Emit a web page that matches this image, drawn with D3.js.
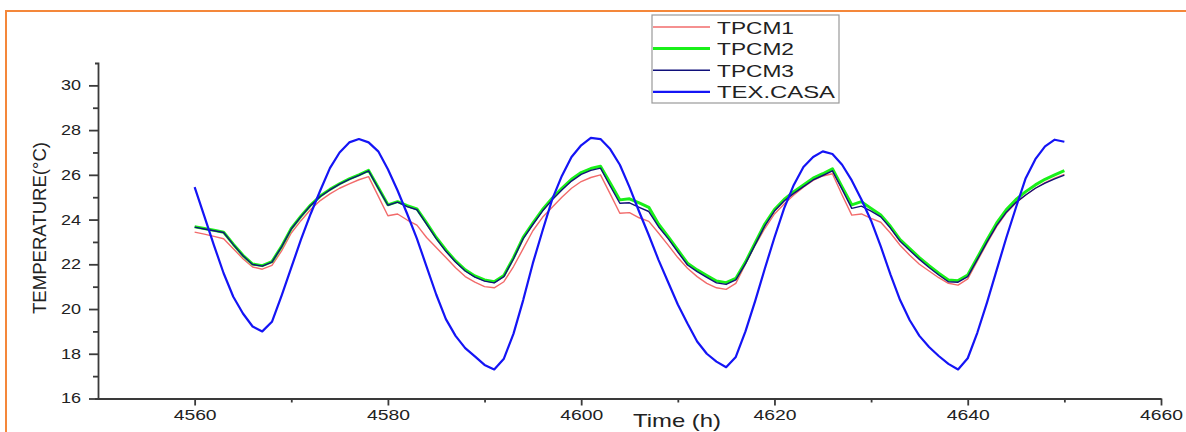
<!DOCTYPE html>
<html>
<head>
<meta charset="utf-8">
<script src="https://cdn.jsdelivr.net/npm/d3@7"></script>
<style>
  body { margin: 0; background: #fff; }
  text { font-family: "Liberation Sans", Arial, sans-serif; fill: #222; }
</style>
</head>
<body>
<svg id="chart"></svg>
<script>
// hourly readings
const hours = [
  4560, 4561, 4562, 4563, 4564, 4565, 4566, 4567, 4568, 4569,
  4570, 4571, 4572, 4573, 4574, 4575, 4576, 4577, 4578, 4579,
  4580, 4581, 4582, 4583, 4584, 4585, 4586, 4587, 4588, 4589,
  4590, 4591, 4592, 4593, 4594, 4595, 4596, 4597, 4598, 4599,
  4600, 4601, 4602, 4603, 4604, 4605, 4606, 4607, 4608, 4609,
  4610, 4611, 4612, 4613, 4614, 4615, 4616, 4617, 4618, 4619,
  4620, 4621, 4622, 4623, 4624, 4625, 4626, 4627, 4628, 4629,
  4630, 4631, 4632, 4633, 4634, 4635, 4636, 4637, 4638, 4639,
  4640, 4641, 4642, 4643, 4644, 4645, 4646, 4647, 4648, 4649,
  4650
];

const tpcm1 = [
  23.44, 23.35, 23.25, 23.14, 22.70, 22.25, 21.88, 21.78, 21.95, 22.60,
  23.40, 23.95, 24.45, 24.85, 25.15, 25.40, 25.60, 25.78, 25.92, 25.05,
  24.17, 24.25, 23.98, 23.75, 23.20, 22.75, 22.30, 21.85, 21.45, 21.20,
  21.00, 20.95, 21.22, 21.90, 22.70, 23.50, 24.10, 24.55, 25.00, 25.40,
  25.70, 25.88, 26.00, 25.15, 24.28, 24.31, 24.08, 23.92, 23.40, 22.86,
  22.30, 21.82, 21.45, 21.15, 20.95, 20.88, 21.15, 22.00, 22.85, 23.60,
  24.25, 24.70, 25.10, 25.45, 25.75, 25.95, 26.05, 25.10, 24.20, 24.25,
  24.05, 23.88, 23.40, 22.85, 22.40, 22.00, 21.70, 21.40, 21.15, 21.07,
  21.35, 22.15, 22.95, 23.70, 24.30, 24.75, 25.10, 25.40, 25.65, 25.85,
  26.02
];

const tpcm2 = [
  23.68, 23.60, 23.52, 23.43, 22.90, 22.40, 22.01, 21.94, 22.12, 22.80,
  23.60, 24.15, 24.65, 25.05, 25.35, 25.60, 25.82, 26.00, 26.20, 25.43,
  24.66, 24.80, 24.62, 24.48, 23.85, 23.20, 22.64, 22.15, 21.75, 21.48,
  21.30, 21.22, 21.50, 22.30, 23.20, 23.84, 24.45, 24.95, 25.40, 25.80,
  26.10, 26.28, 26.38, 25.63, 24.88, 24.93, 24.75, 24.55, 23.80, 23.24,
  22.64, 22.05, 21.75, 21.50, 21.25, 21.18, 21.37, 22.10, 22.95, 23.80,
  24.45, 24.90, 25.25, 25.55, 25.85, 26.05, 26.27, 25.46, 24.66, 24.80,
  24.50, 24.20, 23.70, 23.10, 22.70, 22.30, 21.94, 21.60, 21.30, 21.27,
  21.52, 22.30, 23.10, 23.85, 24.45, 24.90, 25.25, 25.55, 25.80, 26.00,
  26.19
];

const tpcm3 = [
  23.66, 23.58, 23.50, 23.42, 22.88, 22.38, 21.99, 21.92, 22.10, 22.78,
  23.58, 24.13, 24.63, 25.03, 25.33, 25.58, 25.80, 25.98, 26.18, 25.40,
  24.64, 24.78, 24.58, 24.44, 23.80, 23.15, 22.58, 22.10, 21.70, 21.43,
  21.25, 21.17, 21.45, 22.25, 23.15, 23.78, 24.38, 24.88, 25.32, 25.72,
  26.02, 26.20, 26.30, 25.50, 24.73, 24.75, 24.55, 24.36, 23.68, 23.15,
  22.55, 21.97, 21.67, 21.42, 21.17, 21.10, 21.30, 22.03, 22.88, 23.72,
  24.38, 24.83, 25.17, 25.47, 25.77, 25.97, 26.18, 25.35, 24.50, 24.60,
  24.38, 24.12, 23.62, 23.03, 22.62, 22.22, 21.86, 21.52, 21.22, 21.20,
  21.45, 22.22, 23.00, 23.74, 24.33, 24.77, 25.10, 25.40, 25.63, 25.82,
  25.99
];

const texCasa = [
  25.45, 24.15, 22.85, 21.60, 20.55, 19.80, 19.22, 19.00, 19.43, 20.60,
  21.85, 23.10, 24.25, 25.30, 26.30, 27.00, 27.45, 27.60, 27.45, 27.05,
  26.25, 25.30, 24.25, 23.15, 21.90, 20.65, 19.55, 18.80, 18.25, 17.88,
  17.50, 17.30, 17.78, 18.90, 20.40, 22.05, 23.50, 24.90, 25.95, 26.80,
  27.32, 27.65, 27.60, 27.15, 26.45, 25.45, 24.35, 23.30, 22.20, 21.20,
  20.20, 19.35, 18.55, 18.00, 17.65, 17.40, 17.86, 19.00, 20.35, 21.80,
  23.20, 24.50, 25.55, 26.35, 26.80, 27.05, 26.93, 26.45, 25.75, 24.90,
  23.95, 22.80, 21.55, 20.40, 19.50, 18.80, 18.30, 17.90, 17.55, 17.30,
  17.80, 18.95, 20.30, 21.75, 23.20, 24.55, 25.85, 26.70, 27.27, 27.57,
  27.48
];

const seriesNames = ["TPCM1", "TPCM2", "TPCM3", "TEX.CASA"];
const seriesValues = [tpcm1, tpcm2, tpcm3, texCasa];
const seriesColors = ["#f26b6b", "#19f019", "#10107a", "#1414f5"];
const seriesWidths = [1.4, 3, 1.4, 2.2];

const xTicks = [4560, 4580, 4600, 4620, 4640, 4660];
const xMinor = [4570, 4590, 4610, 4630, 4650];
const yTicks = [16, 18, 20, 22, 24, 26, 28, 30];
const yMinor = [17, 19, 21, 23, 25, 27, 29];

const W = 1186, H = 432;
const svg = d3.select("#chart").attr("width", W).attr("height", H);

// orange frame, runs off the right and bottom edges
svg.append("rect")
    .attr("x", 6).attr("y", 11)
    .attr("width", 1300).attr("height", 600)
    .attr("fill", "#fff")
    .attr("stroke", "#f4873a")
    .attr("stroke-width", 2);

const x = d3.scaleLinear().domain([4550, 4660]).range([98, 1161]);
const y = d3.scaleLinear().domain([16, 31]).range([398.5, 63]);

// minor ticks
svg.append("g")
    .attr("transform", "translate(0,398.5)")
    .call(d3.axisBottom(x).tickValues(xMinor).tickSize(4).tickFormat("").tickSizeOuter(0))
    .call(g => g.select(".domain").remove());
svg.append("g")
    .attr("transform", "translate(98,0)")
    .call(d3.axisLeft(y).tickValues(yMinor).tickSize(5).tickFormat("").tickSizeOuter(0))
    .call(g => g.select(".domain").remove());

// X axis
const xAxis = svg.append("g")
    .attr("transform", "translate(0,398.5)")
    .call(d3.axisBottom(x).tickValues(xTicks).tickFormat(d3.format("d"))
        .tickSize(7).tickPadding(5).tickSizeOuter(0));
xAxis.selectAll("text")
    .attr("font-size", "14px")
    .attr("textLength", 43)
    .attr("lengthAdjust", "spacingAndGlyphs");

// Y axis
const yAxis = svg.append("g")
    .attr("transform", "translate(98,0)")
    .call(d3.axisLeft(y).tickValues(yTicks).tickSize(9).tickPadding(8).tickSizeOuter(3));
yAxis.selectAll("text")
    .attr("font-size", "14px")
    .attr("textLength", 20)
    .attr("lengthAdjust", "spacingAndGlyphs");

svg.selectAll(".domain, .tick line")
    .attr("stroke", "#3a3a3a")
    .attr("stroke-width", 1.8);
svg.selectAll(".tick text").attr("fill", "#222").attr("font-family", "Liberation Sans, Arial, sans-serif");

// lines
const line = d3.line()
    .x((d, i) => x(hours[i]))
    .y(d => y(d));

seriesValues.forEach((vals, k) => {
    svg.append("path")
        .datum(vals)
        .attr("fill", "none")
        .attr("stroke", seriesColors[k])
        .attr("stroke-width", seriesWidths[k])
        .attr("stroke-linejoin", "round")
        .attr("d", line);
});

// axis titles
svg.append("text")
    .attr("transform", "translate(46,228) rotate(-90)")
    .attr("text-anchor", "middle")
    .attr("font-size", "19px")
    .attr("textLength", 172)
    .attr("lengthAdjust", "spacingAndGlyphs")
    .text("TEMPERATURE(°C)");

svg.append("text")
    .attr("x", 677)
    .attr("y", 427)
    .attr("text-anchor", "middle")
    .attr("font-size", "19px")
    .attr("textLength", 88)
    .attr("lengthAdjust", "spacingAndGlyphs")
    .text("Time (h)");

// legend
const legend = svg.append("g");
legend.append("rect")
    .attr("x", 652).attr("y", 15)
    .attr("width", 187).attr("height", 88)
    .attr("fill", "#fff")
    .attr("stroke", "#9a9a9a")
    .attr("stroke-width", 1.2);

const legendWidths = [77, 77, 77, 118];
seriesNames.forEach((name, k) => {
    const ry = 27 + k * 21.6;
    legend.append("line")
        .attr("x1", 653).attr("x2", 710)
        .attr("y1", ry).attr("y2", ry)
        .attr("stroke", seriesColors[k])
        .attr("stroke-width", seriesWidths[k]);
    legend.append("text")
        .attr("x", 717)
        .attr("y", ry + 6.5)
        .attr("font-size", "17px")
        .attr("textLength", legendWidths[k])
        .attr("lengthAdjust", "spacingAndGlyphs")
        .text(name);
});
</script>
</body>
</html>
